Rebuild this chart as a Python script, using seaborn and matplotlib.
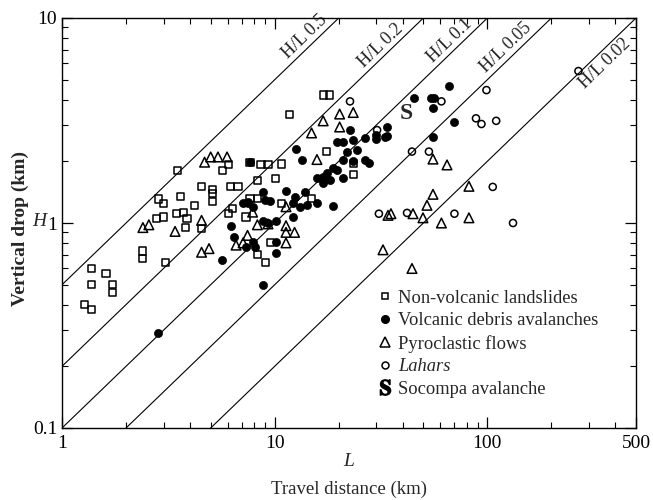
import numpy as np
import matplotlib
matplotlib.use("Agg")
import matplotlib.pyplot as plt
from matplotlib.lines import Line2D
import seaborn as sns
import pandas as pd

# Donnees : L = distance parcourue (km), H = denivele (km)
landslide_L = [1.27, 1.38, 1.38, 1.38, 1.61, 1.73, 1.73, 2.40, 2.40, 3.08, 2.84, 3.00, 2.77,
               3.00, 3.45, 3.71, 3.87, 3.79, 3.59, 3.49, 4.18, 4.53, 5.10, 5.10, 5.10, 4.53,
               5.67, 6.07, 6.20, 6.72, 7.33, 16.9, 18.1, 11.7, 17.6, 10.8, 8.62, 9.30, 7.65,
               8.29, 10.1, 6.33, 7.65, 8.29, 10.8, 6.07, 8.29, 9.04, 9.51, 23.4, 23.4, 14.9]
landslide_H = [0.40, 0.38, 0.60, 0.50, 0.57, 0.50, 0.46, 0.73, 0.67, 0.64, 1.31, 1.24, 1.05,
               1.07, 1.11, 1.12, 1.05, 0.95, 1.34, 1.81, 1.22, 1.51, 1.27, 1.45, 1.40, 0.94,
               1.81, 1.92, 1.51, 1.51, 1.07, 4.21, 4.21, 3.40, 2.24, 1.94, 1.92, 1.92, 1.98,
               1.62, 1.64, 1.18, 1.32, 1.32, 1.25, 1.11, 0.70, 0.64, 0.80, 1.73, 1.96, 1.32]

debris_L = [5.67, 2.84, 6.2, 6.44, 7.33, 7.45, 12.6, 13.4, 22.6, 19.7, 20.9, 23.4, 26.6,
            29.8, 33.0, 20.9, 23.4, 26.6, 27.9, 15.8, 16.9, 17.6, 18.8, 19.7, 16.9, 18.1,
            20.9, 8.85, 11.3, 12.4, 13.9, 7.10, 7.45, 7.87, 9.04, 9.51, 12.2, 13.2, 14.2,
            15.8, 18.8, 12.2, 8.85, 9.30, 10.1, 7.87, 8.08, 10.1, 10.1, 8.85, 66.0, 45.2,
            54.6, 56.1, 55.5, 70.0, 55.5, 33.7, 33.7, 29.8, 21.9, 24.4, 7.65]
debris_H = [0.66, 0.29, 0.97, 0.85, 0.76, 1.26, 2.30, 2.04, 2.84, 2.47, 2.47, 2.54, 2.60,
            2.69, 2.64, 2.04, 2.00, 2.03, 1.96, 1.66, 1.67, 1.75, 1.85, 1.81, 1.57, 1.62,
            1.66, 1.42, 1.43, 1.34, 1.42, 1.25, 1.25, 1.20, 1.30, 1.28, 1.25, 1.20, 1.22,
            1.25, 1.21, 1.07, 1.02, 1.00, 1.02, 0.81, 0.76, 0.81, 0.71, 0.50, 4.66, 4.07,
            4.05, 4.05, 3.64, 3.11, 2.62, 2.94, 2.66, 2.57, 2.22, 2.27, 1.98]

pyro_L = [2.40, 2.56, 3.40, 4.53, 4.53, 4.91, 4.68, 5.0, 5.41, 5.97, 6.58, 7.10, 7.45,
          16.9, 20.2, 23.4, 14.9, 20.2, 15.8, 11.3, 11.3, 11.3, 12.4, 11.3, 8.29, 9.30,
          7.87, 32.3, 34.1, 55.5, 64.6, 55.5, 52.0, 81.9, 35.2, 44.7, 49.8, 60.8, 81.9, 44.2]
pyro_H = [0.95, 0.98, 0.91, 1.03, 0.72, 0.75, 1.98, 2.10, 2.10, 2.10, 0.78, 0.80, 0.87,
          3.15, 3.40, 3.46, 2.75, 2.94, 2.04, 1.20, 0.97, 0.90, 0.90, 0.80, 0.98, 0.99,
          1.13, 0.74, 1.09, 2.05, 1.92, 1.38, 1.22, 1.51, 1.11, 1.11, 1.06, 1.00, 1.06, 0.60]

lahar_L = [22.6, 30.9, 30.3, 60.8, 99, 268, 88.4, 93.8, 110, 44.2, 53.1, 41.9, 70.0, 106, 132]
lahar_H = [3.92, 1.11, 2.84, 3.92, 4.45, 5.51, 3.24, 3.04, 3.15, 2.23, 2.23, 1.12, 1.11, 1.50, 1.00]

socompa_L = 41.4
socompa_H = 3.44

ratios = [0.5, 0.2, 0.1, 0.05, 0.02]
ratio_label_L = [14.8, 33.5, 71, 131, 335]

labels = ["Non-volcanic landslides", "Volcanic debris avalanches", "Pyroclastic flows", "Lahars"]

sns.set_theme(style="ticks")
plt.rcParams['font.family'] = ['Liberation Serif', 'DejaVu Serif']
plt.rcParams['mathtext.fontset'] = 'stix'

df = pd.concat([
    pd.DataFrame({'L': landslide_L, 'H': landslide_H, 'type': labels[0]}),
    pd.DataFrame({'L': debris_L, 'H': debris_H, 'type': labels[1]}),
    pd.DataFrame({'L': pyro_L, 'H': pyro_H, 'type': labels[2]}),
    pd.DataFrame({'L': lahar_L, 'H': lahar_H, 'type': labels[3]}),
])

fig = plt.figure(figsize=(6.53, 5.0), dpi=100)
ax = fig.add_axes([0.095, 0.144, 0.879, 0.82])
ax.set_xscale('log')
ax.set_yscale('log')
ax.set_xlim(1, 500)
ax.set_ylim(0.1, 10)

# Droites H/L constantes
xx = np.array([1, 500])
for r in ratios:
    ax.plot(xx, r * xx, color='black', lw=0.8, zorder=1)

# styles des symboles
styles = {
    labels[0]: dict(marker='s', s=26, facecolor='none', edgecolor='black', linewidth=1.1),
    labels[1]: dict(marker='o', s=34, facecolor='black', edgecolor='black', linewidth=0.5),
    labels[2]: dict(marker='^', s=48, facecolor='none', edgecolor='black', linewidth=1.1),
    labels[3]: dict(marker='o', s=26, facecolor='none', edgecolor='black', linewidth=1.1),
}
for name, grp in df.groupby('type', sort=False):
    sns.scatterplot(data=grp, x='L', y='H', ax=ax, legend=False, zorder=3, **styles[name])

ax.text(socompa_L, socompa_H, 'S', fontsize=17, fontweight='bold', ha='center', va='center', zorder=4)

# Etiquettes des droites
p1 = ax.transData.transform((1, 0.5))
p2 = ax.transData.transform((10, 5))
angle = np.degrees(np.arctan2(p2[1] - p1[1], p2[0] - p1[0]))
for r, lx in zip(ratios, ratio_label_L):
    if r == 0.02:
        # sous la droite, comme sur l'original
        ax.text(lx, r * lx * 0.96, f'H/L {r:g}', fontsize=13, rotation=angle, rotation_mode='anchor',
                ha='center', va='top', zorder=2)
    else:
        ax.text(lx, r * lx * 1.02, f'H/L {r:g}', fontsize=13, rotation=angle, rotation_mode='anchor',
                ha='center', va='bottom', zorder=2)

# Axes
ax.set_xticks([1, 10, 100, 500])
ax.set_xticklabels(['1', '10', '100', '500'])
ax.set_yticks([0.1, 1, 10])
ax.set_yticklabels(['0.1', '1', '10'])
ax.tick_params(which='both', direction='in', top=True, right=True, colors='black', labelsize=14)
ax.tick_params(which='major', length=8, width=0.9)
ax.tick_params(which='minor', length=4, width=0.8)
ax.tick_params(axis='x', pad=5)
for sp in ax.spines.values():
    sp.set_color('black')
    sp.set_linewidth(1.0)

ax.set_xlabel('')
ax.set_ylabel('')
fig.text(349 / 653, 1 - 462 / 500, 'L', style='italic', fontsize=14, ha='center', va='center')
fig.text(349 / 653, 1 - 489 / 500, 'Travel distance (km)', fontsize=13.5, ha='center', va='center')
fig.text(20 / 653, 1 - 228 / 500, 'Vertical drop (km)', fontsize=14, fontweight='bold',
         rotation=90, ha='center', va='center')
fig.text(39 / 653, 1 - 222 / 500, 'H', style='italic', fontsize=14, ha='center', va='center')

# Legende
handles = [
    Line2D([], [], ls='none', marker='s', ms=5, mfc='none', mec='black', mew=1.1),
    Line2D([], [], ls='none', marker='o', ms=5.5, mfc='black', mec='black'),
    Line2D([], [], ls='none', marker='^', ms=6.5, mfc='none', mec='black', mew=1.1),
    Line2D([], [], ls='none', marker='o', ms=5, mfc='none', mec='black', mew=1.1),
    Line2D([], [], ls='none', marker=r'$\mathbf{S}$', ms=11, color='black'),
]
leg = ax.legend(handles, labels + ['Socompa avalanche'], loc='upper left',
                bbox_to_anchor=(0.54, 0.355), frameon=False, fontsize=13.3,
                handlelength=0.6, handletextpad=0.4, labelspacing=0.3, borderaxespad=0)
leg.get_texts()[3].set_style('italic')

fig.savefig('out.png', dpi=100)
